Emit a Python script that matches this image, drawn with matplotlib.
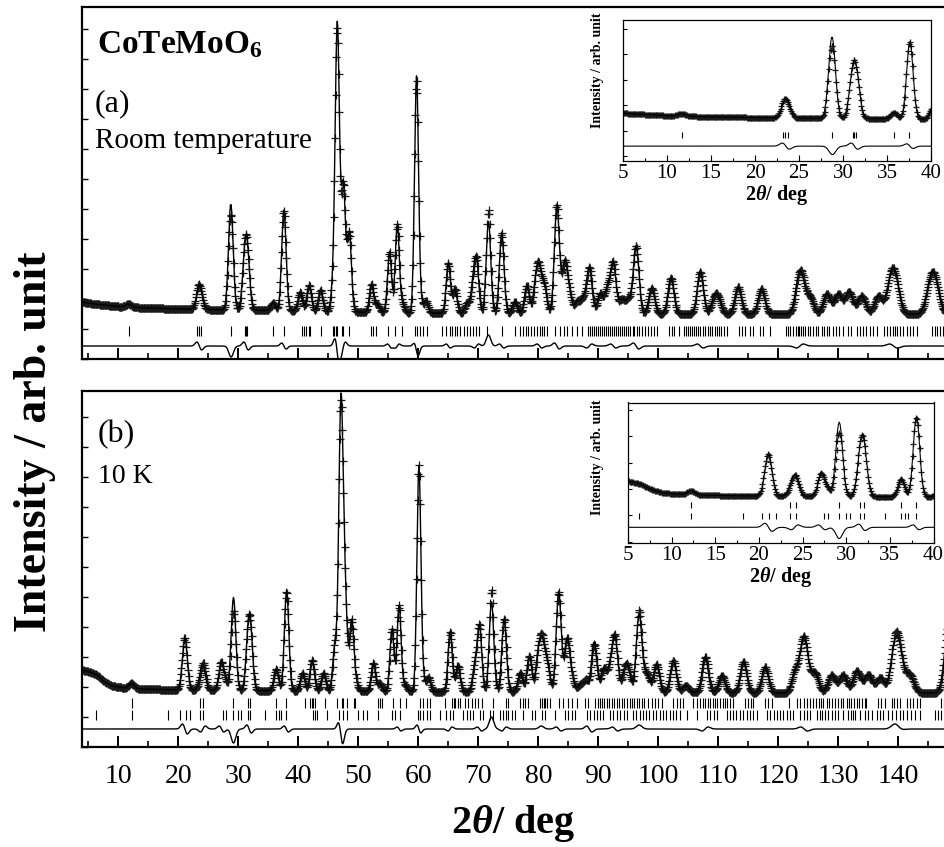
import numpy as np
import matplotlib
matplotlib.use("Agg")
import matplotlib.pyplot as plt
from matplotlib.ticker import MultipleLocator, NullFormatter

plt.rcParams['font.family'] = ['Liberation Serif', 'DejaVu Serif']
plt.rcParams['mathtext.fontset'] = 'custom'
plt.rcParams['mathtext.rm'] = 'Liberation Serif'
plt.rcParams['mathtext.it'] = 'Liberation Serif:italic'
plt.rcParams['mathtext.bf'] = 'Liberation Serif:bold'
plt.rcParams['mathtext.bfit'] = 'Liberation Serif:italic:bold'

# ---------------- data ----------------
step = 0.1
tt = np.arange(3.9, 150.05, step)          # measurement grid (deg)

# instrument resolution (FWHM, deg) vs 2theta
fwhm_pos = [5, 30, 60, 90, 120, 150]
fwhm_val = [1.1, 0.9, 0.78, 1.05, 1.3, 1.7]

# ---- (a) room temperature ----
bg_a_pos = [3.9, 6, 10, 15, 20, 30, 40, 60, 90, 120, 150]
bg_a_val = [57, 55, 52.5, 51, 50, 49, 48, 46, 45, 45, 45]
peak_a_pos = [11.7, 23.3, 23.7, 28.75, 31.05, 31.55, 35.8, 37.6, 40.3, 41.8, 43.7, 45.8,
              46.5, 47.5, 48.5, 52.2, 53.2, 55.2, 56.5, 57.4, 59.7, 60.4, 61.3, 65.0,
              66.1, 68.1, 69.1, 69.7, 71.7, 73.9, 76.1, 78.1, 79.6, 80.2, 81.0, 83.1,
              84.4, 85.2, 86.5, 87.5, 88.5, 90.3, 91.5, 92.5, 93.9, 95.0, 96.3, 98.9,
              102.1, 107.0, 109.3, 110.0, 113.3, 117.2, 123.3, 124.0, 125.3, 128.1, 130.0,
              131.8, 133.9, 136.7, 138.7, 139.6, 145.3, 146.2]
peak_a_amp = [3, 10, 18, 106, 46, 48, 8, 100, 19, 26, 21, 22,
              285, 125, 78, 28, 8, 60, 88, 8, 236, 10, 12, 50,
              24, 10, 25, 50, 92, 80, 12, 28, 30, 35, 26, 108,
              50, 18, 12, 14, 46, 20, 24, 50, 14, 14, 68, 26,
              36, 42, 13, 13, 27, 25, 26, 26, 16, 20, 20,
              22, 18, 18, 29, 29, 26, 26]
wig_a_pos = [23.5, 31.3, 37.6, 46.5, 47.5, 55.2, 56.5, 59.7, 65.0, 69.7, 73.9, 80.2,
             83.1, 88.5, 92.5, 96.3, 107.0, 123.6, 139.2]
wig_a_amp = [4, 4, 3, 10, -4, 2, -2, 4, 2, -2, 2, 2,
             3, -2, 2, 3, 2, -2, 2]
spk_a_pos = [28.8, 46.6, 59.9, 71.7]
spk_a_amp = [-11, -7, -6, 11]
ticks_a = [11.7, 23.15, 23.45, 23.8, 28.8, 31.1, 31.3, 31.5, 35.75, 37.55, 40.6, 41.0,
           41.3, 41.7, 42.0, 43.7, 45.7, 46.0, 46.3, 46.5, 47.2, 47.5, 48.5, 52.1, 52.5,
           52.9, 55.0, 56.1, 57.2, 59.45, 59.85, 60.3, 60.7, 61.4, 63.9, 64.7, 65.3, 65.7,
           66.1, 66.5, 67.0, 67.7, 68.1, 68.6, 69.1, 69.7, 70.2, 71.5, 73.9, 76.1, 77.0,
           77.4, 77.9, 78.3, 78.8, 79.3, 79.8, 80.2, 80.6, 81.0, 81.4, 82.8, 83.6, 84.2,
           84.7, 85.6, 86.4, 87.2, 88.3, 88.6, 89.0, 89.3, 89.6, 90.0, 90.3, 90.6, 90.9,
           91.3, 91.6, 92.0, 92.3, 92.6, 93.0, 93.3, 93.6, 94.0, 94.3, 94.6, 95.0, 95.3,
           95.7, 96.0, 96.4, 96.8, 97.2, 97.7, 98.2, 98.7, 99.2, 99.7, 101.8, 102.2, 102.6,
           103.4, 104.2, 104.6, 104.9, 105.3, 105.6, 105.9, 106.3, 106.6, 107.0, 107.4,
           107.8, 108.2, 108.6, 109.0, 109.4, 109.7, 110.1, 110.5, 111.0, 111.5, 113.4,
           113.9, 114.4, 115.2, 115.8, 117.0, 117.5, 118.6, 121.2, 121.6, 122.0, 122.5,
           122.9, 123.2, 123.5, 123.8, 124.1, 124.5, 124.9, 125.3, 125.7, 126.2, 126.6,
           127.2, 127.6, 128.1, 128.5, 129.2, 129.7, 130.2, 130.8, 131.7, 132.2, 133.1,
           133.6, 134.2, 134.7, 135.3, 135.8, 136.5, 137.6, 138.1, 138.6, 139.1, 139.5,
           139.8, 140.3, 140.8, 141.4, 141.95, 142.5, 143.1, 145.7, 146.1, 146.5, 147.0,
           147.4]

# ---- (b) 10 K ----
bg_b_pos = [3.9, 5.3, 6.5, 7.5, 9, 11, 14, 20, 40, 80, 120, 150]
bg_b_val = [77, 75, 72, 66, 61, 59, 58, 57, 56, 55, 54, 54]
peak_b_pos = [12.2, 21.1, 23.7, 24.15, 27.15, 27.8, 29.2, 31.6, 32.05, 36.3, 38.05, 40.7,
              42.3, 44.2, 46.1, 47.1, 47.8, 48.9, 49.6, 52.5, 53.6, 55.6, 56.8, 57.8,
              60.1, 60.8, 61.7, 65.3, 66.6, 69.4, 70.2, 72.2, 74.3, 77.0, 78.5, 80.0,
              80.7, 81.5, 83.4, 84.8, 85.6, 87.0, 87.9, 89.3, 90.9, 92.0, 92.8, 94.4,
              95.0, 96.8, 98.1, 99.7, 102.5, 104.6, 107.8, 110.6, 114.2, 117.8, 122.8,
              124.0, 124.6, 126.1, 128.9, 130.8, 133.1, 135.0, 137.0, 139.3, 140.2, 141.9,
              148.5]
peak_b_amp = [5, 52, 8, 22, 26, 9, 93, 42, 50, 22, 100, 18,
              31, 18, 45, 285, 89, 70, 8, 28, 8, 62, 86, 6,
              225, 10, 14, 60, 26, 24, 65, 90, 73, 19, 36, 36,
              42, 26, 100, 52, 12, 7, 9, 50, 23, 22, 52, 18,
              18, 78, 18, 28, 32, 7, 36, 17, 31, 26, 20,
              32, 32, 20, 18, 18, 22, 18, 15, 36, 36, 18,
              75]
wig_b_pos = [21.1, 24.1, 27.2, 31.8, 38.0, 47.1, 56.8, 60.1, 65.3, 70.2, 74.3, 83.4,
             88.5, 92.8, 107.8, 124.3, 139.8]
wig_b_amp = [5, -3, 3, 4, 3, 9, 2, 4, -2, 2, -2, 2,
             3, 2, -2, 2, 2]
spk_b_pos = [29.2, 47.2, 72.2, 80.5, 96.8, 139.8]
spk_b_amp = [-14, -7, 12, 3, 4, 4]
ticks_b1 = [12.2, 23.6, 24.2, 29.2, 31.6, 32.0, 36.3, 38.0, 41.1, 41.9, 42.2, 42.5, 42.8,
            44.5, 46.4, 47.2, 47.5, 48.1, 49.2, 49.5, 53.3, 53.6, 53.9, 55.8, 57.0, 58.0,
            60.3, 60.8, 61.4, 62.0, 64.5, 65.6, 65.9, 66.2, 66.7, 67.0, 67.8, 68.3, 68.9,
            69.5, 70.0, 70.6, 72.5, 74.7, 75.0, 77.0, 77.4, 77.8, 78.2, 80.3, 80.6, 80.9,
            81.1, 81.4, 81.9, 83.5, 84.1, 85.0, 85.6, 86.5, 87.8, 88.3, 89.5, 89.9, 90.2,
            90.6, 91.0, 91.4, 91.8, 92.2, 92.6, 93.1, 93.5, 93.9, 94.3, 94.7, 95.2, 95.6,
            96.0, 96.4, 96.8, 97.2, 97.6, 98.3, 98.9, 99.5, 100.0, 100.6, 102.5, 103.1,
            103.6, 104.1, 105.8, 106.4, 106.9, 107.4, 107.8, 108.2, 108.6, 109.1, 109.5,
            109.8, 110.3, 110.7, 111.1, 111.5, 112.0, 112.4, 114.5, 115.0, 115.4, 115.8,
            117.8, 118.3, 118.9, 121.7, 123.1, 123.6, 124.2, 124.7, 125.3, 125.8, 126.3,
            126.7, 127.1, 127.5, 128.1, 128.5, 128.9, 129.45, 130.0, 130.4, 130.85, 131.4,
            131.85, 132.2, 132.6, 133.1, 133.5, 133.9, 134.45, 134.7, 136.7, 137.2, 137.8,
            138.9, 139.3, 139.8, 140.3, 141.5, 141.95, 142.4, 143.1, 143.6, 147.2, 147.6]
ticks_b2 = [6.3, 12.2, 18.2, 20.3, 21.2, 22.0, 23.6, 24.2, 27.4, 27.9, 29.2, 30.0, 30.4,
            31.6, 32.0, 34.5, 36.3, 36.7, 37.1, 38.0, 42.5, 42.8, 43.1, 44.8, 46.7, 47.5,
            48.1, 50.0, 50.8, 51.4, 53.3, 55.6, 56.1, 57.0, 60.0, 60.3, 60.8, 61.4, 62.0,
            63.6, 64.7, 65.3, 65.8, 67.5, 68.1, 68.6, 69.2, 70.3, 70.8, 72.0, 72.5, 73.6,
            74.2, 74.6, 75.0, 75.6, 76.1, 77.5, 78.9, 79.5, 80.6, 81.1, 82.8, 84.5, 85.0,
            85.6, 86.1, 88.1, 88.6, 89.2, 89.7, 90.3, 90.8, 92.0, 92.5, 93.1, 93.6, 94.2,
            94.7, 95.8, 96.3, 96.9, 97.4, 98.0, 98.5, 99.1, 99.6, 100.2, 100.8, 101.3,
            101.9, 102.4, 103.0, 103.6, 104.7, 106.4, 108.1, 108.6, 109.2, 109.7, 111.4,
            111.9, 112.5, 113.0, 113.6, 114.1, 114.7, 115.3, 115.8, 116.4, 118.1, 118.6,
            119.2, 119.7, 120.3, 120.8, 121.4, 122.0, 122.5, 123.6, 124.2, 124.7, 125.3,
            126.4, 126.9, 127.2, 127.8, 128.3, 128.9, 129.45, 130.0, 130.8, 131.7, 132.2,
            132.5, 132.8, 133.6, 134.45, 135.0, 135.6, 136.4, 137.0, 137.5, 138.3, 138.9,
            139.7, 140.3, 140.8, 141.5, 142.2, 142.8, 143.6, 146.1, 146.7, 147.2]

# x tick labels
main_xticks = [10, 20, 30, 40, 50, 60, 70, 80, 90, 100, 110, 120, 130, 140]
inset_xticks = [5, 10, 15, 20, 25, 30, 35, 40]


# ---------------- model profile built from the read peak list ----------------
def sigmas(pos):
    return np.interp(pos, fwhm_pos, fwhm_val) / 2.3548


def peaks(x, pos, amp):
    pos = np.asarray(pos, float)[:, None]
    amp = np.asarray(amp, float)[:, None]
    s = sigmas(pos)
    return (amp * np.exp(-0.5 * ((x[None, :] - pos) / s) ** 2)).sum(0)


def wiggles(x, pos, amp):
    pos = np.asarray(pos, float)[:, None]
    amp = np.asarray(amp, float)[:, None]
    s = sigmas(pos)
    u = (x[None, :] - pos) / s
    return (-amp * u * np.exp(0.5 - 0.5 * u ** 2)).sum(0)


calc_a = np.interp(tt, bg_a_pos, bg_a_val) + peaks(tt, peak_a_pos, peak_a_amp)
dev_a = wiggles(tt, wig_a_pos, wig_a_amp) + peaks(tt, spk_a_pos, spk_a_amp)
obs_a = calc_a + dev_a
calc_b = np.interp(tt, bg_b_pos, bg_b_val) + peaks(tt, peak_b_pos, peak_b_amp)
dev_b = wiggles(tt, wig_b_pos, wig_b_amp) + peaks(tt, spk_b_pos, spk_b_amp)
obs_b = calc_b + dev_b

# ---------------- figure ----------------
W, H = 944, 847
fig = plt.figure(figsize=(W / 100, H / 100), dpi=100)


def px_axes(l, t, r, b):
    return fig.add_axes([l / W, 1 - b / H, (r - l) / W, (b - t) / H])


def draw(ax, obs, calc, diff_off, tick_rows, ms, lw, tlw):
    ax.plot(tt, obs, '+', ms=ms, mew=0.9, color='0.1', zorder=2)
    ax.plot(tt, calc, '-', lw=lw, color='k', zorder=3)
    for pos, (y0, y1) in tick_rows:
        ax.vlines(pos, y0, y1, color='k', lw=tlw, zorder=3)
    ax.plot(tt, diff_off + (obs - calc), '-', lw=lw, color='k', zorder=3)


left = 81.7
right = left + (150 - 3.9) * 6.0
ax_a = px_axes(left, 7, right, 359)
ax_b = px_axes(left, 391, right, 747)

draw(ax_a, obs_a, calc_a, 13, [(ticks_a, (23, 33))], 6.3, 1.0, 0.8)
draw(ax_b, obs_b, calc_b, 18, [(ticks_b1, (39, 49)), (ticks_b2, (27, 37))], 6.3, 1.0, 0.8)
ax_a.set_ylim(0, 352)
ax_b.set_ylim(0, 356)

for ax in (ax_a, ax_b):
    ax.set_xlim(3.9, 150)
    ax.set_xticks(main_xticks)
    ax.xaxis.set_minor_locator(MultipleLocator(5))
    ax.yaxis.set_major_locator(MultipleLocator(30))
    ax.yaxis.set_major_formatter(NullFormatter())
    ax.tick_params(axis='x', which='major', direction='in', length=8, width=1.4,
                   labelsize=20, pad=12)
    ax.tick_params(axis='x', which='minor', direction='in', length=4, width=1.2)
    ax.tick_params(axis='y', which='major', direction='in', length=4, width=1.0)
    for sp in ax.spines.values():
        sp.set_linewidth(1.6)
ax_a.tick_params(axis='x', labelbottom=False)

# insets
in_a = px_axes(623, 20, 931, 161)
in_b = px_axes(628, 402.5, 933.5, 543)
draw(in_a, obs_a, calc_a, 13, [(ticks_a, (24, 31))], 5.0, 0.8, 0.8)
draw(in_b, obs_b, calc_b, 18, [(ticks_b1, (42, 50)), (ticks_b2, (28.5, 36))], 5.0, 0.8, 0.8)
in_a.set_ylim(-6.3, 176.8)
in_b.set_ylim(-1.6, 174)
for ax in (in_a, in_b):
    ax.set_facecolor('white')
    ax.set_xlim(5, 40)
    ax.set_xticks(inset_xticks)
    ax.xaxis.set_minor_locator(MultipleLocator(2.5))
    ax.yaxis.set_major_locator(MultipleLocator(33))
    ax.yaxis.set_major_formatter(NullFormatter())
    ax.tick_params(axis='x', which='major', direction='in', length=4, width=0.8,
                   labelsize=15, pad=2)
    ax.tick_params(axis='x', which='minor', direction='in', length=2.5, width=0.8)
    ax.tick_params(axis='y', which='major', direction='in', length=3, width=0.8)
    for sp in ax.spines.values():
        sp.set_linewidth(0.9)
    ax.set_xlabel(r'2$\boldsymbol{\theta}$/ deg', fontsize=14.5, fontweight='bold',
                  labelpad=0)

fig.text(598 / W, 1 - 70 / H, 'Intensity / arb. unit', rotation=90, fontsize=10,
         fontweight='bold', ha='center', va='center')
fig.text(597.5 / W, 1 - 457.5 / H, 'Intensity / arb. unit', rotation=90, fontsize=10,
         fontweight='bold', ha='center', va='center')

# panel texts
fig.text(97 / W, 1 - 53 / H, r'CoTeMoO$_{\mathbf{6}}$', fontsize=24, fontweight='bold',
         va='baseline')
fig.text(95 / W, 1 - 103.5 / H, '(a)', fontsize=23, va='center')
fig.text(95 / W, 1 - 148.5 / H, 'Room temperature', fontsize=21, va='baseline')
fig.text(98 / W, 1 - 434.5 / H, '(b)', fontsize=23, va='center')
fig.text(98 / W, 1 - 483 / H, '10 K', fontsize=20, va='baseline')

fig.text(35 / W, 1 - 442 / H, 'Intensity / arb. unit', rotation=90, fontsize=33,
         fontweight='bold', ha='center', va='center')
fig.text(513 / W, 1 - 823 / H, r'2$\boldsymbol{\theta}$/ deg', fontsize=29,
         fontweight='bold', ha='center', va='center')

fig.savefig('out.png', dpi=100)
